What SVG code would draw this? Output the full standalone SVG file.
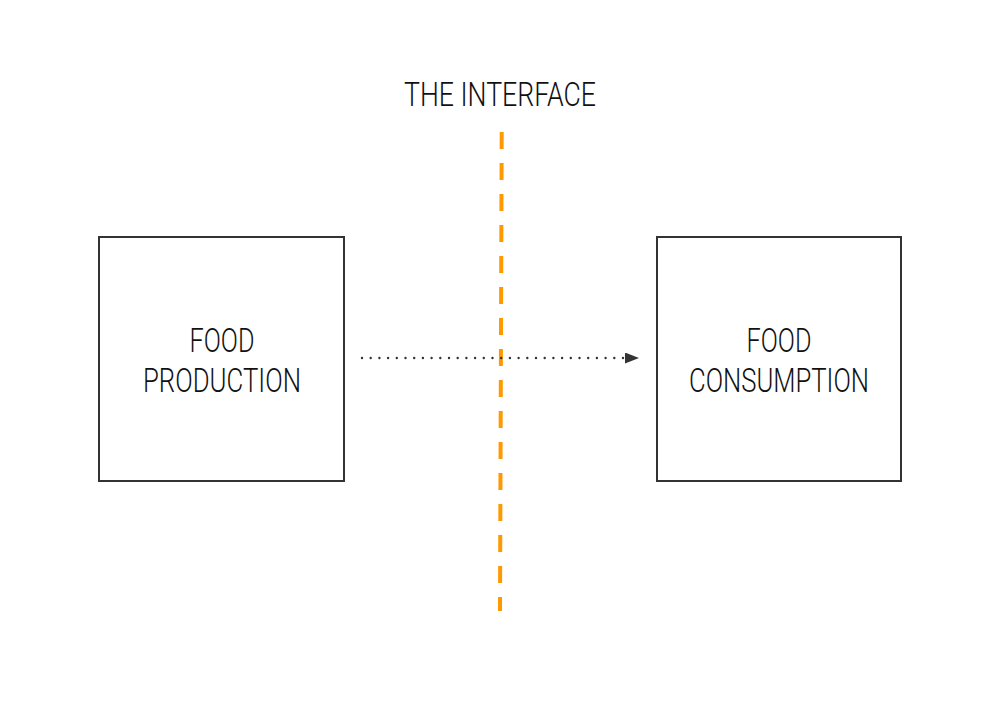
<svg xmlns="http://www.w3.org/2000/svg" width="1000" height="714" viewBox="0 0 1000 714">
<defs>
<style>
.box{fill:#ffffff;stroke:#333333;stroke-width:2}
.lbl{font-family:Roboto,"DejaVu Sans",sans-serif;font-weight:300;font-size:33px;fill:#111111;text-anchor:middle}
.iface{stroke:#ff9900;stroke-width:4;stroke-dasharray:17 14;fill:none}
.flow{stroke:#333333;stroke-width:2.4;stroke-linecap:round;stroke-dasharray:0 8.7;fill:none}
</style>
<marker id="arr" markerWidth="14" markerHeight="11" refX="0" refY="5.5" orient="auto" markerUnits="userSpaceOnUse">
<path d="M0,0 L14,5.5 L0,11 z" fill="#333333"/>
</marker>
</defs>
<rect width="1000" height="714" fill="#ffffff"/>
<g id="node-production">
<rect class="box" x="99" y="237" width="245" height="244"/>
<text class="lbl" x="222" y="352" textLength="65" lengthAdjust="spacingAndGlyphs">FOOD</text>
<text class="lbl" x="222" y="392" textLength="158" lengthAdjust="spacingAndGlyphs">PRODUCTION</text>
</g>
<g id="node-consumption">
<rect class="box" x="657" y="237" width="244" height="244"/>
<text class="lbl" x="779" y="352" textLength="65" lengthAdjust="spacingAndGlyphs">FOOD</text>
<text class="lbl" x="779" y="392" textLength="180" lengthAdjust="spacingAndGlyphs">CONSUMPTION</text>
</g>
<g id="interface">
<text class="lbl" x="500" y="106" textLength="192" lengthAdjust="spacingAndGlyphs">THE INTERFACE</text>
<line class="iface" x1="501.7" y1="132" x2="500" y2="611"/>
</g>
<g id="connectors">
<line class="flow" x1="362" y1="358" x2="625" y2="358" marker-end="url(#arr)"/>
</g>
</svg>
